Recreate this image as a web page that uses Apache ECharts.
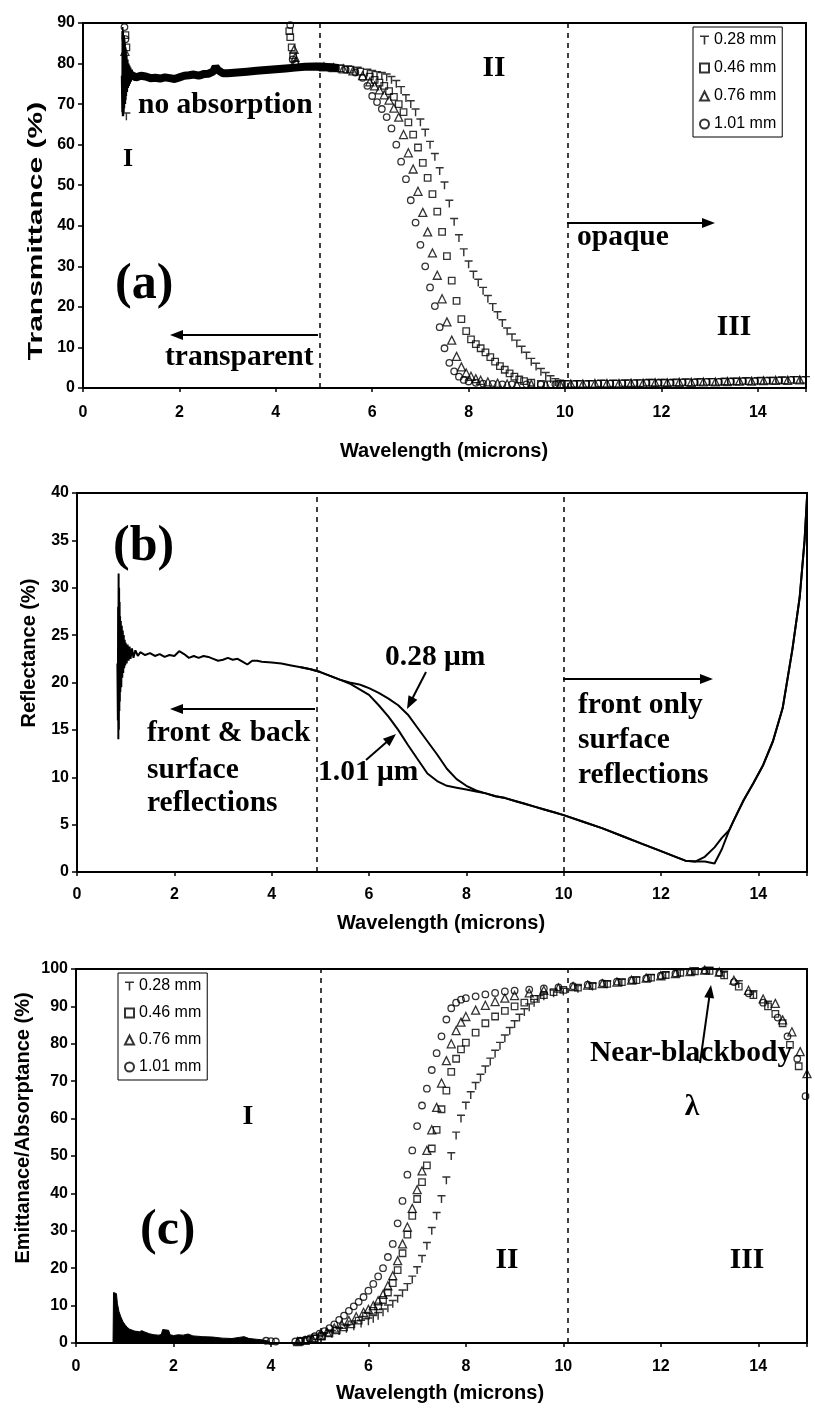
<!DOCTYPE html>
<html><head><meta charset="utf-8">
<script src="https://cdn.jsdelivr.net/npm/echarts@6/dist/echarts.min.js"></script>
<style>html,body{margin:0;padding:0;background:#fff}#c{width:815px;height:1416px}</style>
</head><body><div id="c"></div>
<script>
// ---------------- DATA ----------------
const seriesNames = ['0.28 mm', '0.46 mm', '0.76 mm', '1.01 mm'];
const xTicks = [0, 2, 4, 6, 8, 10, 12, 14];

// Panel (a) Transmittance (%) vs wavelength (microns)
const a_spike = [[0.80,77],[0.81,68],[0.815,88],[0.82,67],[0.825,89],[0.83,68],[0.835,88],[0.84,67],[0.845,87],[0.85,68],[0.855,87],[0.86,69],[0.865,86],[0.87,70],[0.875,85],[0.88,70],[0.885,84],[0.89,71],[0.895,83],[0.9,72],[0.91,82],[0.92,73],[0.93,81],[0.94,74],[0.95,80],[0.96,74.5],[0.97,79.5],[0.98,75],[0.99,79],[1.0,75.5],[1.02,78.5],[1.04,76]];
const a_band = [[1.0,77.2],[1.1,76.6],[1.2,77.0],[1.3,76.8],[1.4,76.4],[1.5,76.5],[1.6,76.3],[1.7,76.6],[1.8,76.4],[1.9,76.2],[2.0,76.6],[2.1,77.0],[2.2,77.1],[2.3,77.3],[2.4,77.0],[2.5,77.4],[2.6,77.5],[2.7,78.0],[2.75,79.2],[2.8,78.4],[2.9,77.6],[3.0,77.6],[3.2,77.8],[3.4,78.0],[3.6,78.2],[3.8,78.4],[4.0,78.6],[4.2,78.8],[4.4,79.0],[4.6,79.2],[4.8,79.3],[5.0,79.2],[5.3,78.9]];
const a_028 = [[0.9,67],[4.9,79.2],[5.1,79],[5.3,78.8],[5.5,78.6],[5.7,78.3],[5.9,77.8],[6.0,77.5],[6.1,77.2],[6.2,77],[6.3,76.6],[6.4,76],[6.5,75],[6.6,73.5],[6.7,71.5],[6.8,70],[6.9,68],[7.0,65.5],[7.1,63],[7.2,60],[7.3,57],[7.4,53.5],[7.5,50],[7.6,45.5],[7.7,41],[7.8,37],[7.9,33.5],[8.0,30.5],[8.1,28],[8.2,26],[8.3,24],[8.4,22],[8.5,20],[8.6,18],[8.7,16],[8.8,14],[8.9,12.5],[9.0,11],[9.1,9.5],[9.2,8],[9.3,6.5],[9.4,5.3],[9.5,4],[9.6,3],[9.7,2.2],[9.8,1.5],[9.9,1.1],[10.0,1.0],[10.25,1.0],[10.5,1.0],[10.75,1.1],[11.0,1.1],[11.25,1.1],[11.5,1.2],[11.75,1.3],[12.0,1.3],[12.25,1.3],[12.5,1.4],[12.75,1.4],[13.0,1.5],[13.25,1.5],[13.5,1.6],[13.75,1.7],[14.0,1.7],[14.25,1.8],[14.5,1.9],[14.75,2.0],[15.0,2.0]];
const a_046 = [[0.88,87],[0.9,84],[4.28,88],[4.3,86.5],[4.33,84],[4.36,82],[4.95,79.2],[5.15,79],[5.35,78.8],[5.55,78.5],[5.75,78],[5.95,76.8],[6.05,76],[6.15,75.3],[6.25,74.5],[6.35,73.2],[6.45,71.8],[6.55,70],[6.65,68],[6.75,65.5],[6.85,62.5],[6.95,59.3],[7.05,55.5],[7.15,51.8],[7.25,47.8],[7.35,43.5],[7.45,38.5],[7.55,32.5],[7.65,26.5],[7.75,21.5],[7.85,17],[7.95,14],[8.05,12],[8.15,10.8],[8.25,9.8],[8.35,8.8],[8.45,7.6],[8.55,6.5],[8.65,5.4],[8.75,4.5],[8.85,3.6],[8.95,2.8],[9.05,2.1],[9.15,1.7],[9.3,1.3],[9.5,1.0],[9.7,0.9],[9.9,0.9],[10.06,1.0],[10.31,1.0],[10.56,1.0],[10.81,1.1],[11.06,1.1],[11.31,1.2],[11.56,1.2],[11.81,1.3],[12.06,1.3],[12.31,1.4],[12.56,1.4],[12.81,1.5],[13.06,1.5],[13.31,1.6],[13.56,1.6],[13.81,1.7],[14.06,1.8],[14.31,1.8],[14.56,1.9],[14.81,2.0]];
const a_076 = [[0.87,83],[4.38,83.5],[4.4,81.5],[4.42,80.5],[5.0,79.2],[5.2,79],[5.4,78.7],[5.6,78.2],[5.8,77],[5.95,75.5],[6.05,74.5],[6.15,73.5],[6.25,72.3],[6.35,71],[6.45,69],[6.55,66.8],[6.65,62.5],[6.75,58],[6.85,54],[6.95,48.5],[7.05,43.3],[7.15,38.5],[7.25,33.3],[7.35,27.8],[7.45,22],[7.55,16.3],[7.65,11.8],[7.75,7.8],[7.85,5.2],[7.95,3.7],[8.05,2.9],[8.15,2.3],[8.25,1.9],[8.4,1.5],[8.6,1.2],[8.8,1.0],[9.0,0.9],[9.3,0.9],[9.6,0.9],[9.9,0.9],[10.12,1.0],[10.37,1.0],[10.62,1.1],[10.87,1.1],[11.12,1.1],[11.37,1.2],[11.62,1.2],[11.87,1.3],[12.12,1.3],[12.37,1.4],[12.62,1.4],[12.87,1.5],[13.12,1.5],[13.37,1.6],[13.62,1.7],[13.87,1.7],[14.12,1.8],[14.37,1.9],[14.62,1.9],[14.87,2.0]];
const a_101 = [[0.86,89],[0.88,86],[4.3,89.5],[4.35,81],[4.4,80],[5.05,79.1],[5.25,78.9],[5.45,78.5],[5.65,77.8],[5.8,76.5],[5.9,74.5],[6.0,72],[6.1,70.5],[6.2,68.8],[6.3,66.8],[6.4,64],[6.5,60],[6.6,55.8],[6.7,51.5],[6.8,46.3],[6.9,40.8],[7.0,35.3],[7.1,30],[7.2,24.8],[7.3,20.2],[7.4,15],[7.5,9.8],[7.6,6.2],[7.7,4.1],[7.8,2.8],[7.9,2.0],[8.0,1.6],[8.15,1.3],[8.3,1.1],[8.5,1.0],[8.7,0.9],[8.9,0.9],[9.2,0.9],[9.5,0.9],[9.8,0.9],[10.19,1.0],[10.44,1.0],[10.69,1.1],[10.94,1.1],[11.19,1.2],[11.44,1.2],[11.69,1.3],[11.94,1.3],[12.19,1.3],[12.44,1.4],[12.69,1.4],[12.94,1.5],[13.19,1.5],[13.44,1.6],[13.69,1.7],[13.94,1.7],[14.19,1.8],[14.44,1.9],[14.69,2.0],[14.94,2.0]];
const a_dividers = [4.91, 10.06];

// Panel (b) Reflectance (%)
const b_028 = [[0.83,22],[0.84,16],[0.845,28],[0.85,14],[0.855,31.5],[0.86,15],[0.865,30],[0.87,17],[0.875,28.5],[0.88,18],[0.885,27],[0.89,19],[0.9,26.5],[0.91,19.5],[0.92,26],[0.93,20.5],[0.94,25.5],[0.95,21],[0.96,25],[0.97,21.5],[0.98,24.5],[0.99,21.8],[1.0,24.2],[1.02,22],[1.04,24],[1.06,22.3],[1.08,23.8],[1.1,22.5],[1.13,23.6],[1.16,22.6],[1.2,23.4],[1.25,22.8],[1.3,23.2],[1.4,22.9],[1.5,23.1],[1.6,22.8],[1.7,23.0],[1.8,22.7],[1.9,22.9],[2.0,22.8],[2.1,23.3],[2.2,23.0],[2.3,22.6],[2.4,22.8],[2.5,22.6],[2.6,22.8],[2.7,22.7],[2.8,22.5],[2.9,22.3],[3.0,22.4],[3.1,22.6],[3.2,22.4],[3.3,22.5],[3.4,22.2],[3.5,21.9],[3.6,22.3],[3.7,22.3],[3.8,22.2],[4.0,22.1],[4.2,22.0],[4.4,21.8],[4.6,21.6],[4.8,21.4],[5.0,21.1],[5.2,20.7],[5.4,20.3],[5.6,20.0],[5.8,19.8],[5.9,19.6],[6.0,19.4],[6.2,18.9],[6.4,18.3],[6.6,17.6],[6.8,16.6],[7.0,15.2],[7.2,13.8],[7.4,12.4],[7.6,10.9],[7.8,9.8],[8.0,9.1],[8.2,8.6],[8.4,8.3],[8.6,8.0],[8.8,7.8],[9.0,7.5],[9.2,7.2],[9.4,6.9],[9.6,6.6],[9.8,6.3],[10.0,6.0],[10.4,5.3],[10.8,4.6],[11.2,3.8],[11.6,3.0],[12.0,2.2],[12.3,1.6],[12.5,1.2],[12.7,1.1],[12.9,1.1],[13.1,0.9],[13.25,2.4],[13.4,4.4],[13.5,5.5],[13.7,7.6],[13.9,9.4],[14.1,11.3],[14.3,13.8],[14.5,17.3],[14.7,23.5],[14.85,29],[14.95,35],[15.0,39.5]];
const b_101 = [[4.6,21.6],[4.8,21.4],[5.0,21.1],[5.2,20.7],[5.4,20.3],[5.6,19.9],[5.8,19.3],[6.0,18.7],[6.2,17.6],[6.4,16.4],[6.6,15.0],[6.8,13.4],[7.0,11.9],[7.2,10.4],[7.4,9.6],[7.6,9.1],[7.8,8.9],[8.0,8.7],[8.2,8.5],[8.4,8.3],[8.6,8.0],[8.8,7.8],[9.0,7.5],[9.2,7.2],[9.4,6.9],[9.6,6.6],[9.8,6.3],[10.0,6.0],[10.4,5.3],[10.8,4.6],[11.2,3.8],[11.6,3.0],[12.0,2.2],[12.3,1.6],[12.5,1.2],[12.7,1.1],[12.9,1.6],[13.1,2.6],[13.25,3.6],[13.4,4.4],[13.5,5.5],[13.7,7.6],[13.9,9.4],[14.1,11.3],[14.3,13.8],[14.5,17.3],[14.7,23.5],[14.85,29],[14.95,35],[15.0,39.5]];
const b_dividers = [4.93, 10.01];

// Panel (c) Emittance/Absorptance (%)
const c_regionI = [[0.76,0],[0.77,13.5],[0.8,13.8],[0.83,13.2],[0.85,10.5],[0.88,8.5],[0.92,7],[0.96,5.8],[1.0,5],[1.05,4.2],[1.1,3.7],[1.2,3.2],[1.3,3.0],[1.35,3.3],[1.4,3.0],[1.5,2.5],[1.6,2.2],[1.7,2.1],[1.75,2.3],[1.78,3.6],[1.9,3.4],[1.93,2.2],[2.0,2.0],[2.1,2.2],[2.2,2.1],[2.3,2.4],[2.4,1.9],[2.5,1.8],[2.6,1.7],[2.8,1.6],[3.0,1.3],[3.2,1.2],[3.35,1.5],[3.45,1.7],[3.55,1.2],[3.7,1.0],[3.85,0.8],[3.95,0.5],[4.0,0]];
const c_028 = [[4.65,0.5],[4.8,0.8],[4.95,1.2],[5.1,1.8],[5.25,2.5],[5.4,3.2],[5.55,3.8],[5.7,4.5],[5.85,5.2],[6.0,5.8],[6.1,6.5],[6.2,7.3],[6.3,8.2],[6.4,9.3],[6.5,10.5],[6.6,11.8],[6.7,13.3],[6.8,15],[6.9,17],[7.0,19.5],[7.1,22.5],[7.2,26],[7.3,30],[7.4,34],[7.5,38.5],[7.6,43.5],[7.7,50],[7.8,55.5],[7.9,60],[8.0,63.5],[8.1,66.3],[8.2,68.8],[8.3,71],[8.4,73.2],[8.5,75.3],[8.6,77.4],[8.7,79.5],[8.8,81.5],[8.9,83.5],[9.0,85.3],[9.1,87],[9.2,88.5],[9.3,89.8],[9.4,91],[9.5,92],[9.6,92.7],[9.8,93.5],[10.0,94],[10.3,94.7],[10.6,95.3],[10.9,95.9],[11.2,96.4],[11.5,97],[11.8,97.6],[12.1,98.3],[12.4,98.9],[12.7,99.4],[13.0,99.6],[13.3,98.5],[13.6,96],[13.9,93.3],[14.2,90.5]];
const c_046 = [[4.6,0.4],[4.75,0.8],[4.9,1.2],[5.05,1.8],[5.2,2.6],[5.35,3.4],[5.5,4.2],[5.65,5],[5.8,6],[5.95,7.3],[6.1,8.6],[6.2,9.8],[6.3,11.5],[6.4,13.5],[6.5,16],[6.6,19.5],[6.7,24],[6.8,29],[6.9,34],[7.0,38.5],[7.1,43],[7.2,47.5],[7.3,52],[7.4,57],[7.5,62.5],[7.6,67.5],[7.7,72.5],[7.8,76],[7.9,78.5],[8.0,80.3],[8.2,83],[8.4,85.5],[8.6,87.3],[8.8,88.8],[9.0,90],[9.2,91],[9.4,92],[9.6,93],[9.8,93.8],[10.0,94.4],[10.3,95],[10.6,95.5],[10.9,96],[11.2,96.5],[11.5,97],[11.8,97.7],[12.1,98.4],[12.4,99],[12.7,99.4],[13.0,99.5],[13.3,98.3],[13.6,95.3],[13.9,93],[14.2,90],[14.35,88],[14.5,85.5],[14.65,79.7],[14.83,74]];
const c_076 = [[4.55,0.4],[4.7,0.7],[4.85,1.2],[5.0,2],[5.15,3],[5.3,4],[5.45,5],[5.6,6],[5.75,7],[5.9,8.2],[6.0,9],[6.1,10],[6.2,11.3],[6.3,13],[6.4,15.3],[6.5,18],[6.6,22],[6.7,26.5],[6.8,31],[6.9,36],[7.0,41],[7.1,46],[7.2,51.5],[7.3,57],[7.4,63],[7.5,69.5],[7.6,75.5],[7.7,80],[7.8,83.5],[7.9,85.8],[8.0,87.3],[8.2,89],[8.4,90.3],[8.6,91.3],[8.8,92.2],[9.0,92.9],[9.3,93.6],[9.6,94.3],[9.9,94.9],[10.2,95.3],[10.5,95.7],[10.8,96.1],[11.1,96.5],[11.4,97],[11.7,97.6],[12.0,98.2],[12.3,98.8],[12.6,99.3],[12.9,99.7],[13.2,99.2],[13.5,97],[13.8,94.3],[14.1,92],[14.35,90.8],[14.5,86.4],[14.69,83.2],[14.86,77.9],[15.0,72]];
const c_101 = [[3.9,0.6],[4.0,0.5],[4.1,0.4],[4.5,0.4],[4.6,0.6],[4.7,0.8],[4.8,1.2],[4.9,1.8],[5.0,2.5],[5.1,3.2],[5.2,4.0],[5.3,5.0],[5.4,6.2],[5.5,7.3],[5.6,8.6],[5.7,9.8],[5.8,11],[5.9,12.3],[6.0,14],[6.1,15.8],[6.2,17.8],[6.3,20],[6.4,23],[6.5,26.5],[6.6,32],[6.7,38],[6.8,45],[6.9,51.5],[7.0,58],[7.1,63.5],[7.2,68],[7.3,73],[7.4,77.5],[7.5,82],[7.6,86.5],[7.7,89.5],[7.8,91],[7.9,91.8],[8.0,92.2],[8.2,92.7],[8.4,93.2],[8.6,93.6],[8.8,94],[9.0,94.2],[9.3,94.5],[9.6,94.8],[9.9,95.1],[10.2,95.4],[10.5,95.8],[10.8,96.2],[11.1,96.6],[11.4,97],[11.7,97.5],[12.0,98.2],[12.3,98.8],[12.6,99.3],[12.9,99.6],[13.2,99],[13.5,96.5],[13.8,93.5],[14.1,91],[14.4,87],[14.6,82],[14.8,76],[14.97,66]];
const c_dividers = [5.02, 10.09];

// ---------------- STYLE / LAYOUT ----------------
const SANS = 'Liberation Sans, Arial, sans-serif';
const SERIF = 'Liberation Serif, Times New Roman, serif';
const plusPath = 'path://M0,0L10,0L10,1.8L5.9,1.8L5.9,10L4.1,10L4.1,1.8L0,1.8Z';
const symbols = [
  {symbol: plusPath, size: [8, 8], itemStyle: {color: '#000'}},
  {symbol: 'rect', size: 6.5, itemStyle: {color: 'rgba(0,0,0,0)', borderColor: '#000', borderWidth: 1.3}},
  {symbol: 'triangle', size: 8, itemStyle: {color: 'rgba(0,0,0,0)', borderColor: '#000', borderWidth: 1.3}},
  {symbol: 'circle', size: 6.5, itemStyle: {color: 'rgba(0,0,0,0)', borderColor: '#000', borderWidth: 1.3}}
];

const grids = [
  {left: 83, top: 23, width: 723, height: 365},
  {left: 77, top: 493, width: 730, height: 379},
  {left: 76, top: 969, width: 731, height: 374}
].map(g => Object.assign(g, {show: true, borderColor: '#000', borderWidth: 2}));

function xAx(gi, margin) {
  return {type: 'value', gridIndex: gi, min: 0, max: 15, interval: 2,
    axisLine: {show: true, onZero: false, lineStyle: {color: '#000', width: 2}},
    axisTick: {show: true, length: 4, lineStyle: {color: '#000', width: 1.5}},
    splitLine: {show: false},
    axisLabel: {color: '#000', fontSize: 16, fontWeight: 'bold', fontFamily: SANS, margin,
      formatter: v => (xTicks.indexOf(v) >= 0 ? String(v) : '')}};
}
function yAx(gi, max, interval) {
  return {type: 'value', gridIndex: gi, min: 0, max, interval,
    axisLine: {show: true, onZero: false, lineStyle: {color: '#000', width: 2}},
    axisTick: {show: true, length: 5, lineStyle: {color: '#000', width: 1.5}},
    splitLine: {show: false},
    axisLabel: {color: '#000', fontSize: 16, fontWeight: 'bold', fontFamily: SANS, margin: 8}};
}
function divider(vals) {
  return {silent: true, symbol: ['none', 'none'], label: {show: false},
    lineStyle: {color: '#000', type: [5, 5], width: 1.5},
    data: vals.map(v => ({xAxis: v}))};
}
function scat(name, data, gi, k, extra) {
  const s = symbols[k];
  return Object.assign({name, type: 'scatter', xAxisIndex: gi, yAxisIndex: gi, data,
    symbol: s.symbol, symbolSize: s.size, itemStyle: s.itemStyle, silent: true}, extra || {});
}
function plainLine(name, data, gi, width, extra) {
  return Object.assign({name, type: 'line', xAxisIndex: gi, yAxisIndex: gi, data,
    showSymbol: false, symbol: 'none', silent: true,
    lineStyle: {color: '#000', width}}, extra || {});
}
function legend(left, top, gap) {
  return {left, top, orient: 'vertical', padding: [5, 6, 5, 6], itemGap: gap,
    itemWidth: 9, itemHeight: 9, borderColor: '#000', borderWidth: 1,
    textStyle: {fontSize: 16, fontFamily: SANS, color: '#000'},
    selectedMode: false, data: seriesNames};
}

const series = [
  plainLine('a spike', a_spike, 0, 1.5),
  plainLine('a band', a_band, 0, 8, {markLine: divider(a_dividers)}),
  scat(seriesNames[0], a_028, 0, 0),
  scat(seriesNames[1], a_046, 0, 1),
  scat(seriesNames[2], a_076, 0, 2),
  scat(seriesNames[3], a_101, 0, 3),
  plainLine('0.28 μm', b_028, 1, 2, {markLine: divider(b_dividers)}),
  plainLine('1.01 μm', b_101, 1, 2),
  plainLine('c region I', c_regionI, 2, 1, {areaStyle: {color: '#000', opacity: 1}, markLine: divider(c_dividers)}),
  scat(seriesNames[0], c_028, 2, 0),
  scat(seriesNames[1], c_046, 2, 1),
  scat(seriesNames[2], c_076, 2, 2),
  scat(seriesNames[3], c_101, 2, 3)
];

// annotations (pixel layout)
function txt(text, x, y, size, align, opts) {
  const o = opts || {};
  return Object.assign({type: 'text', x, y, silent: true, z: 100,
    style: {text, fill: '#000', font: (o.weight || 'bold') + ' ' + size + 'px ' + (o.family || SERIF),
      align: align, textAlign: align, verticalAlign: 'middle', textVerticalAlign: 'middle'}}, o.tf || {});
}
function arrow(x1, y1, x2, y2) {
  const L = 13, W = 5;
  const dx = x2 - x1, dy = y2 - y1, d = Math.hypot(dx, dy);
  const ux = dx / d, uy = dy / d;
  const bx = x2 - ux * L, by = y2 - uy * L;
  return [
    {type: 'line', silent: true, z: 100, shape: {x1, y1, x2: bx + ux, y2: by + uy}, style: {stroke: '#000', lineWidth: 2}},
    {type: 'polygon', silent: true, z: 100, shape: {points: [[x2, y2], [bx - uy * W, by + ux * W], [bx + uy * W, by - ux * W]]}, style: {fill: '#000'}}
  ];
}
const F = 29.5;
const graphic = [
  // axis titles
  txt('Wavelength (microns)', 444, 451, 20, 'center', {family: SANS}),
  txt('Wavelength (microns)', 441, 923, 20, 'center', {family: SANS}),
  txt('Wavelength (microns)', 440, 1393, 20, 'center', {family: SANS}),
  txt('Transmittance (%)', 36, 231, 20, 'center', {family: SANS, tf: {rotation: Math.PI / 2, scaleX: 1.5}}),
  txt('Reflectance (%)', 29, 653, 20, 'center', {family: SANS, tf: {rotation: Math.PI / 2}}),
  txt('Emittanace/Absorptance (%)', 23, 1128, 20, 'center', {family: SANS, tf: {rotation: Math.PI / 2}}),
  // panel (a)
  txt('no absorption', 138, 105, F, 'left'),
  txt('I', 128, 159, 26, 'center'),
  txt('(a)', 115, 285, 50, 'left'),
  txt('transparent', 165, 357, F, 'left'),
  txt('II', 494, 68, F, 'center'),
  txt('opaque', 577, 237, F, 'left'),
  txt('III', 734, 327, F, 'center'),
  ...arrow(318, 335, 170, 335),
  ...arrow(567, 223, 715, 223),
  // panel (b)
  txt('(b)', 113, 547, 50, 'left'),
  txt('0.28 μm', 385, 657, F, 'left'),
  txt('1.01 μm', 318, 772, F, 'left'),
  txt('front & back', 147, 733, F, 'left'),
  txt('surface', 147, 770, F, 'left'),
  txt('reflections', 147, 803, F, 'left'),
  txt('front only', 578, 705, F, 'left'),
  txt('surface', 578, 740, F, 'left'),
  txt('reflections', 578, 775, F, 'left'),
  ...arrow(315, 709, 170, 709),
  ...arrow(563, 679, 713, 679),
  ...arrow(426, 672, 407, 709),
  ...arrow(366, 760, 396, 734),
  // panel (c)
  txt('(c)', 140, 1231, 50, 'left'),
  txt('I', 248, 1117, 28, 'center'),
  txt('II', 507, 1260, F, 'center'),
  txt('III', 747, 1260, F, 'center'),
  txt('Near-blackbody', 590, 1053, F, 'left'),
  txt('λ', 692, 1107, F, 'center'),
  ...arrow(700, 1063, 711, 985)
];

const chart = echarts.init(document.getElementById('c'), null, {renderer: 'canvas', width: 815, height: 1416});
chart.setOption({
  animation: false,
  backgroundColor: '#fff',
  grid: grids,
  xAxis: [xAx(0, 17), xAx(1, 15), xAx(2, 16)],
  yAxis: [yAx(0, 90, 10), yAx(1, 40, 5), yAx(2, 100, 10)],
  legend: [legend(693, 27, 12), legend(118, 973, 11)],
  series,
  graphic
});
</script></body></html>
